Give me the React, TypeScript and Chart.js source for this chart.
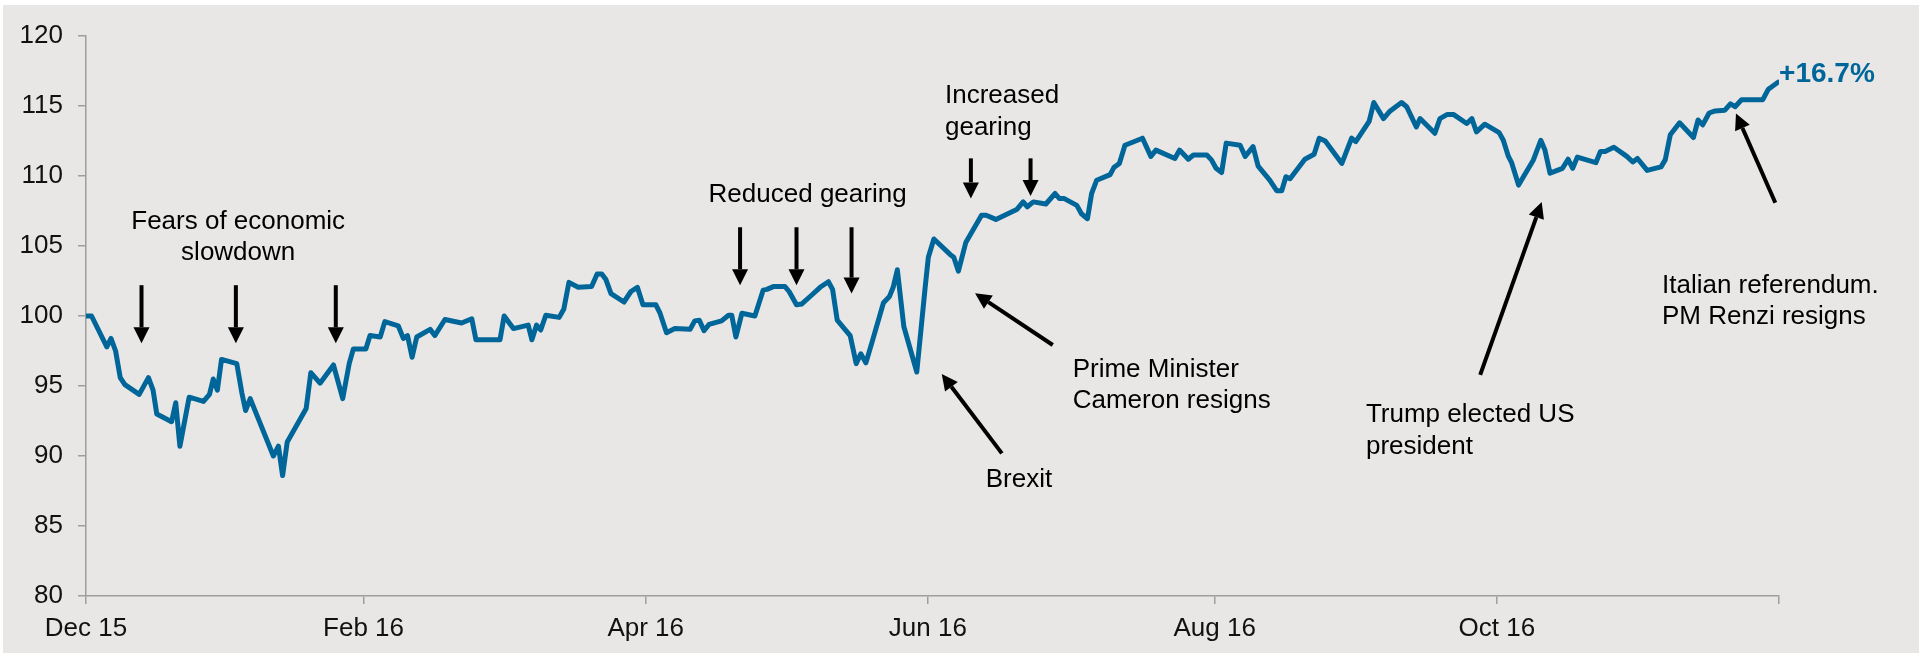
import React, { useEffect, useRef } from "react";
import { Chart, registerables } from "chart.js";

Chart.register(...registerables);

// Days since 1 Dec 2015 and index level (100 = start)
const days = [
  0, 1.2, 4.5, 5.4, 6.4, 7.4, 8.4, 11.5, 13.5, 14.5, 15.3, 18.5, 19.4, 20.3, 22.3, 25.4, 26.7, 27.5, 28.4, 29.3,
  32.6, 33.7, 34.5, 35.5, 40.5, 41.6, 42.5, 43.5, 47.6, 48.6, 50.6, 53.5, 55.5, 56.9, 57.8, 60.5, 61.4, 63.6, 64.6,
  67.5, 68.6, 69.5, 70.5, 71.5, 74.4, 75.4, 77.6, 81.2, 83.4, 84.3, 89.5, 90.4, 92.4, 95.6, 96.4, 97.4, 98.3, 99.4,
  102.3, 103.3, 104.4, 106.4, 109.3, 110.5, 111.5, 112.4, 113.5, 116.3, 117.8, 119.2, 120.4, 123.2, 124.1, 125.5,
  127.3, 130.6, 131.6, 132.6, 133.6, 134.7, 137.4, 138.9, 139.6, 140.5, 141.8, 144.6, 146.4, 147.2, 148.6, 151.1,
  152.0, 153.6, 154.7, 156.9, 158.7, 160.5, 161.4, 162.4, 165.2, 166.5, 167.5, 168.6, 169.9, 172.4, 173.7, 174.5,
  175.4, 176.8, 179.6, 181.4, 182.1, 183.3, 186.8, 187.6, 188.6, 190.2, 193.6, 194.6, 196.7, 201.2, 202.6, 203.5,
  204.8, 207.5, 209.5, 210.4, 211.4, 214.2, 215.2, 216.5, 217.4, 218.5, 221.4, 222.2, 223.4, 224.6, 228.4, 230.2,
  231.3, 235.4, 236.4, 238.3, 239.4, 242.3, 243.3, 244.3, 245.5, 246.5, 249.5, 250.6, 252.3, 253.4, 255.9, 257.4,
  258.5, 259.4, 260.3, 263.5, 265.5, 266.6, 267.9, 271.5, 273.6, 274.5, 277.4, 278.4, 280.5, 281.8, 284.4, 285.5,
  287.6, 288.4, 291.6, 292.7, 294.3, 295.6, 298.5, 299.6, 300.6, 302.4, 305.5, 306.4, 307.5, 308.2, 309.7, 312.9,
  314.5, 315.4, 316.5, 319.2, 320.4, 321.4, 322.4, 326.4, 327.4, 328.4, 330.3, 333.1, 334.4, 335.4, 337.5, 340.5,
  341.4, 342.5, 344.5, 347.5, 348.5, 349.5, 350.9, 352.2, 354.3, 355.5, 356.5, 357.9, 362.5, 363.7, 365.8,
];
const values = [
  100.0, 100.0, 97.8, 98.4, 97.5, 95.6, 95.1, 94.4, 95.6, 94.7, 93.0, 92.45, 93.8, 90.7, 94.2, 93.9, 94.4, 95.5, 94.7, 96.9,
  96.6, 94.5, 93.25, 94.1, 90.0, 90.7, 88.6, 91.0, 93.4, 95.95, 95.2, 96.5, 94.1, 96.6, 97.65, 97.65, 98.6, 98.5, 99.6,
  99.3, 98.4, 98.6, 97.05, 98.5, 99.05, 98.6, 99.75, 99.5, 99.8, 98.3, 98.3, 100.0, 99.1, 99.35, 98.3, 99.35, 99.0, 100.05,
  99.9, 100.5, 102.4, 102.05, 102.1, 103.0, 103.0, 102.6, 101.6, 101.0, 101.75, 102.05, 100.8, 100.8, 100.2, 98.8,
  99.1, 99.05, 99.65, 99.7, 98.95, 99.4, 99.65, 100.05, 100.05, 98.5, 100.2, 100.0, 101.85, 101.9, 102.1, 102.1,
  101.75, 100.8, 100.85, 101.5, 102.05, 102.45, 101.9, 99.7, 98.6, 96.6, 97.3, 96.65, 98.1, 100.95, 101.4, 102.05,
  103.3, 99.25, 96.0, 102.0, 104.2, 105.5, 104.4, 104.2, 103.2, 105.25, 107.2, 107.2, 106.9, 107.6, 108.15, 107.8,
  108.15, 108.0, 108.75, 108.4, 108.4, 107.9, 107.3, 106.95, 108.75, 109.7, 110.1, 110.6, 110.9, 112.2, 112.7, 111.4,
  111.85, 111.25, 111.85, 111.2, 111.5, 111.5, 111.15, 110.55, 110.25, 112.35, 112.2, 111.4, 112.1, 110.7, 109.7, 108.95,
  108.95, 109.95, 109.8, 111.2, 111.55, 112.7, 112.5, 110.9, 112.7, 112.45, 113.9, 115.25, 114.1, 114.6, 115.25, 114.95,
  113.5, 114.1, 113.05, 114.1, 114.4, 114.4, 113.75, 114.1, 113.15, 113.7, 113.1, 112.55, 111.4, 110.95, 109.35, 111.15,
  112.55, 111.85, 110.2, 110.55, 111.2, 110.55, 111.35, 110.95, 111.75, 111.75, 112.05, 111.4, 111.0, 111.25, 110.4, 110.65,
  111.15, 112.95, 113.8, 112.75, 114.0, 113.65, 114.5, 114.65, 114.7, 115.15, 114.95, 115.45, 115.45, 116.2, 116.7,
];

const tickDays = [0, 60, 121, 182, 244, 305, 366];
const tickLabels = ["Dec 15", "Feb 16", "Apr 16", "Jun 16", "Aug 16", "Oct 16", ""];

// Text annotations: [day, level] anchor, lines, alignment
const noteX = [32.9, 156.0, 185.7, 213.3, 201.7, 276.7, 340.7];
const noteY = [106.74, 108.64, 115.71, 96.19, 88.3, 92.93, 102.19];
const noteText = [
  ["Fears of economic", "slowdown"],
  ["Reduced gearing"],
  ["Increased", "gearing"],
  ["Prime Minister", "Cameron resigns"],
  ["Brexit"],
  ["Trump elected US", "president"],
  ["Italian referendum.", "PM Renzi resigns"],
];
const noteAlign = ["center", "center", "left", "left", "center", "left", "left"];

// Vertical (downward) arrows: day, top level, tip level
const downArrowDay = [12.0, 32.4, 54.0, 141.4, 153.6, 165.5, 191.3, 204.2];
const downArrowTop = [102.2, 102.2, 102.2, 106.34, 106.34, 106.34, 111.26, 111.26];
const downArrowTip = [98.05, 98.05, 98.05, 102.2, 102.2, 101.6, 108.4, 108.57];

// Diagonal arrows: tail (day, level) -> tip (day, level)
const diagTailDay = [209.0, 198.0, 301.4, 365.2];
const diagTailVal = [97.93, 90.19, 95.79, 108.09];
const diagTipDay = [192.2, 185.0, 314.7, 356.7];
const diagTipVal = [101.62, 95.86, 108.14, 114.47];

const endLabel = "+16.7%";

const FONT = "'Liberation Sans', Arial, sans-serif";
const BLUE = "#006699";

function drawArrow(ctx: CanvasRenderingContext2D, x1: number, y1: number, x2: number, y2: number) {
  const ang = Math.atan2(y2 - y1, x2 - x1);
  const headLen = 16;
  const headHalf = 8;
  const bx = x2 - headLen * Math.cos(ang);
  const by = y2 - headLen * Math.sin(ang);
  ctx.beginPath();
  ctx.moveTo(x1, y1);
  ctx.lineTo(bx, by);
  ctx.stroke();
  ctx.beginPath();
  ctx.moveTo(x2, y2);
  ctx.lineTo(bx + headHalf * Math.sin(ang), by - headHalf * Math.cos(ang));
  ctx.lineTo(bx - headHalf * Math.sin(ang), by + headHalf * Math.cos(ang));
  ctx.closePath();
  ctx.fill();
}

const bgPlugin = {
  id: "bg",
  beforeDraw(chart: any) {
    const ctx = chart.ctx;
    ctx.save();
    ctx.fillStyle = "#ffffff";
    ctx.fillRect(0, 0, chart.width, chart.height);
    ctx.fillStyle = "#E8E7E5";
    ctx.fillRect(3, 5, chart.width - 3, chart.height - 7);
    ctx.restore();
  },
};

const notesPlugin = {
  id: "notes",
  afterDraw(chart: any) {
    const ctx = chart.ctx;
    const xs = chart.scales.x;
    const ys = chart.scales.y;
    ctx.save();
    ctx.fillStyle = "#000000";
    ctx.strokeStyle = "#000000";
    ctx.lineWidth = 4;
    ctx.font = `26px ${FONT}`;
    ctx.textBaseline = "middle";
    noteText.forEach((lines, i) => {
      const x = xs.getPixelForValue(noteX[i]);
      const y0 = ys.getPixelForValue(noteY[i]);
      ctx.textAlign = noteAlign[i];
      lines.forEach((t, j) => ctx.fillText(t, x, y0 + j * 31.5));
    });
    downArrowDay.forEach((d, i) => {
      const x = xs.getPixelForValue(d);
      drawArrow(ctx, x, ys.getPixelForValue(downArrowTop[i]), x, ys.getPixelForValue(downArrowTip[i]));
    });
    diagTailDay.forEach((d, i) => {
      drawArrow(
        ctx,
        xs.getPixelForValue(d),
        ys.getPixelForValue(diagTailVal[i]),
        xs.getPixelForValue(diagTipDay[i]),
        ys.getPixelForValue(diagTipVal[i])
      );
    });
    const last = days.length - 1;
    ctx.fillStyle = BLUE;
    ctx.font = `bold 28px ${FONT}`;
    ctx.textAlign = "left";
    ctx.fillText(endLabel, xs.getPixelForValue(days[last]) + 1, ys.getPixelForValue(values[last]) - 8);
    ctx.restore();
  },
};

export default function App() {
  const ref = useRef<HTMLCanvasElement>(null);
  useEffect(() => {
    document.body.style.margin = "0";
    const canvas = ref.current!;
    const chart = new Chart(canvas, {
      type: "line",
      data: {
        datasets: [
          {
            data: days.map((d, i) => ({ x: d, y: values[i] })),
            borderColor: BLUE,
            borderWidth: 5,
            pointRadius: 0,
            tension: 0,
            borderJoinStyle: "round",
            borderCapStyle: "round",
            fill: false,
          },
        ],
      },
      options: {
        animation: false,
        responsive: false,
        devicePixelRatio: 1,
        layout: { padding: { top: 36, right: 140, left: 0, bottom: 0 } },
        plugins: { legend: { display: false }, tooltip: { enabled: false } },
        scales: {
          x: {
            type: "linear",
            min: 0,
            max: 366,
            afterBuildTicks: (axis: any) => {
              axis.ticks = tickDays.map((v) => ({ value: v }));
            },
            afterFit: (axis: any) => {
              axis.height = 59;
            },
            ticks: {
              autoSkip: false,
              maxRotation: 0,
              padding: 9,
              color: "#111111",
              font: { family: FONT, size: 26 },
              callback: (v: any) => tickLabels[tickDays.indexOf(Number(v))] ?? "",
            },
            grid: { display: true, drawOnChartArea: false, drawTicks: true, tickLength: 8, color: "#9E9E9E", lineWidth: 1.5 },
            border: { display: true, color: "#9E9E9E", width: 1.5 },
          },
          y: {
            min: 80,
            max: 120,
            afterFit: (axis: any) => {
              axis.width = 86;
            },
            ticks: {
              stepSize: 5,
              padding: 15,
              color: "#111111",
              font: { family: FONT, size: 26 },
            },
            grid: { display: true, drawOnChartArea: false, drawTicks: true, tickLength: 8, color: "#9E9E9E", lineWidth: 1.5 },
            border: { display: true, color: "#9E9E9E", width: 1.5 },
          },
        },
      },
      plugins: [bgPlugin, notesPlugin],
    } as any);
    return () => chart.destroy();
  }, []);
  return (
    <div style={{ width: 1919, height: 655, position: "relative" }}>
      <canvas ref={ref} width={1919} height={655} style={{ display: "block" }} />
    </div>
  );
}
